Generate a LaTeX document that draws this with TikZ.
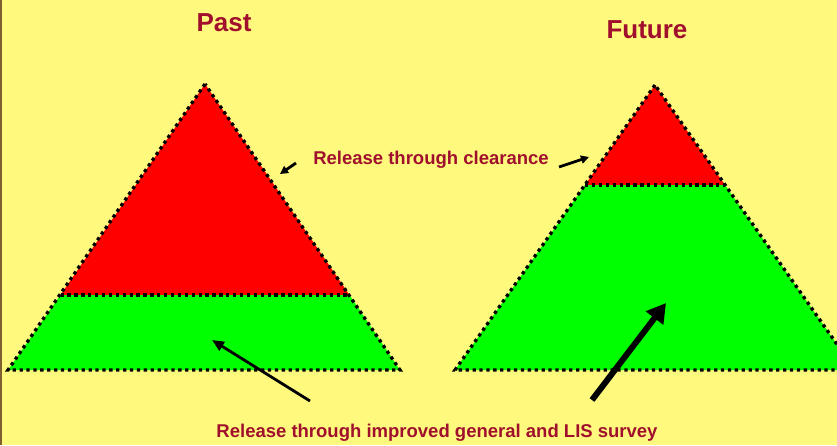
\documentclass[tikz,border=0pt]{standalone}
\usepackage{fontspec}
\setmainfont{Liberation Sans}
\usetikzlibrary{arrows.meta}
\definecolor{bgyellow}{RGB}{255,250,125}
\definecolor{txtred}{RGB}{160,16,45}
\definecolor{edgebrown}{RGB}{128,96,48}
\tikzset{
  dotline/.style={draw=black, line width=3.3pt, dash pattern=on 3.3pt off 3.6pt},
  title/.style={text=txtred, font=\bfseries\fontsize{26}{30}\selectfont, inner sep=0pt},
  label/.style={text=txtred, font=\bfseries\fontsize{18.5}{22}\selectfont, inner sep=0pt},
  thinarrow/.style={line width=2.8pt, -{Triangle[length=12pt,width=10pt]}},
  smallarrow/.style={line width=2.8pt, -{Triangle[length=8pt,width=8pt]}},
  thickarrow/.style={line width=6pt, -{Triangle[length=19pt,width=21pt]}}
}
\begin{document}
\begin{tikzpicture}[x=1pt,y=-1pt]
\useasboundingbox (0,0) rectangle (837,445);
\clip (0,0) rectangle (837,445);
\fill[bgyellow] (0,0) rectangle (837,445);
\fill[edgebrown] (0,0) rectangle (2,445);
% left pyramid
\coordinate (LA) at (205,84);
\coordinate (LBL) at (8,370);
\coordinate (LBR) at (400,370);
\coordinate (LML) at (60.5,295);
\coordinate (LMR) at (349.5,295);
\fill[red] (LA) -- (LML) -- (LMR) -- cycle;
\fill[green] (LML) -- (LBL) -- (LBR) -- (LMR) -- cycle;
\draw[dotline] (LA) -- (LBL) -- (LBR) -- cycle;
\draw[dotline] (LML) -- (LMR);
% right pyramid
\coordinate (RA) at (655,85);
\coordinate (RBL) at (455,370);
\coordinate (RBR) at (855,370);
\coordinate (RML) at (585,185);
\coordinate (RMR) at (725,185);
\fill[red] (RA) -- (RML) -- (RMR) -- cycle;
\fill[green] (RML) -- (RBL) -- (RBR) -- (RMR) -- cycle;
\draw[dotline] (RA) -- (RBL) -- (RBR) -- cycle;
\draw[dotline] (RML) -- (RMR);
% titles
\node[title] (past) at (224,23) {Past};
\node[title] (future) at (647,30) {Future};
% labels
\node[label] (clear) at (431,160) {Release through clearance};
\node[label] (survey) at (437,433) {Release through improved general and LIS survey};
% arrows
\coordinate (c1s) at (296,163);
\coordinate (c1e) at (280,174);
\coordinate (c2s) at (559,167);
\coordinate (c2e) at (589,157);
\draw[smallarrow] (c1s) -- (c1e);
\draw[smallarrow] (c2s) -- (c2e);
\coordinate (s1s) at (310,401);
\coordinate (s1e) at (212,340);
\coordinate (s2s) at (592,400);
\coordinate (s2e) at (666,303);
\draw[thinarrow] (s1s) -- (s1e);
\draw[thickarrow] (s2s) -- (s2e);
\end{tikzpicture}
\end{document}
